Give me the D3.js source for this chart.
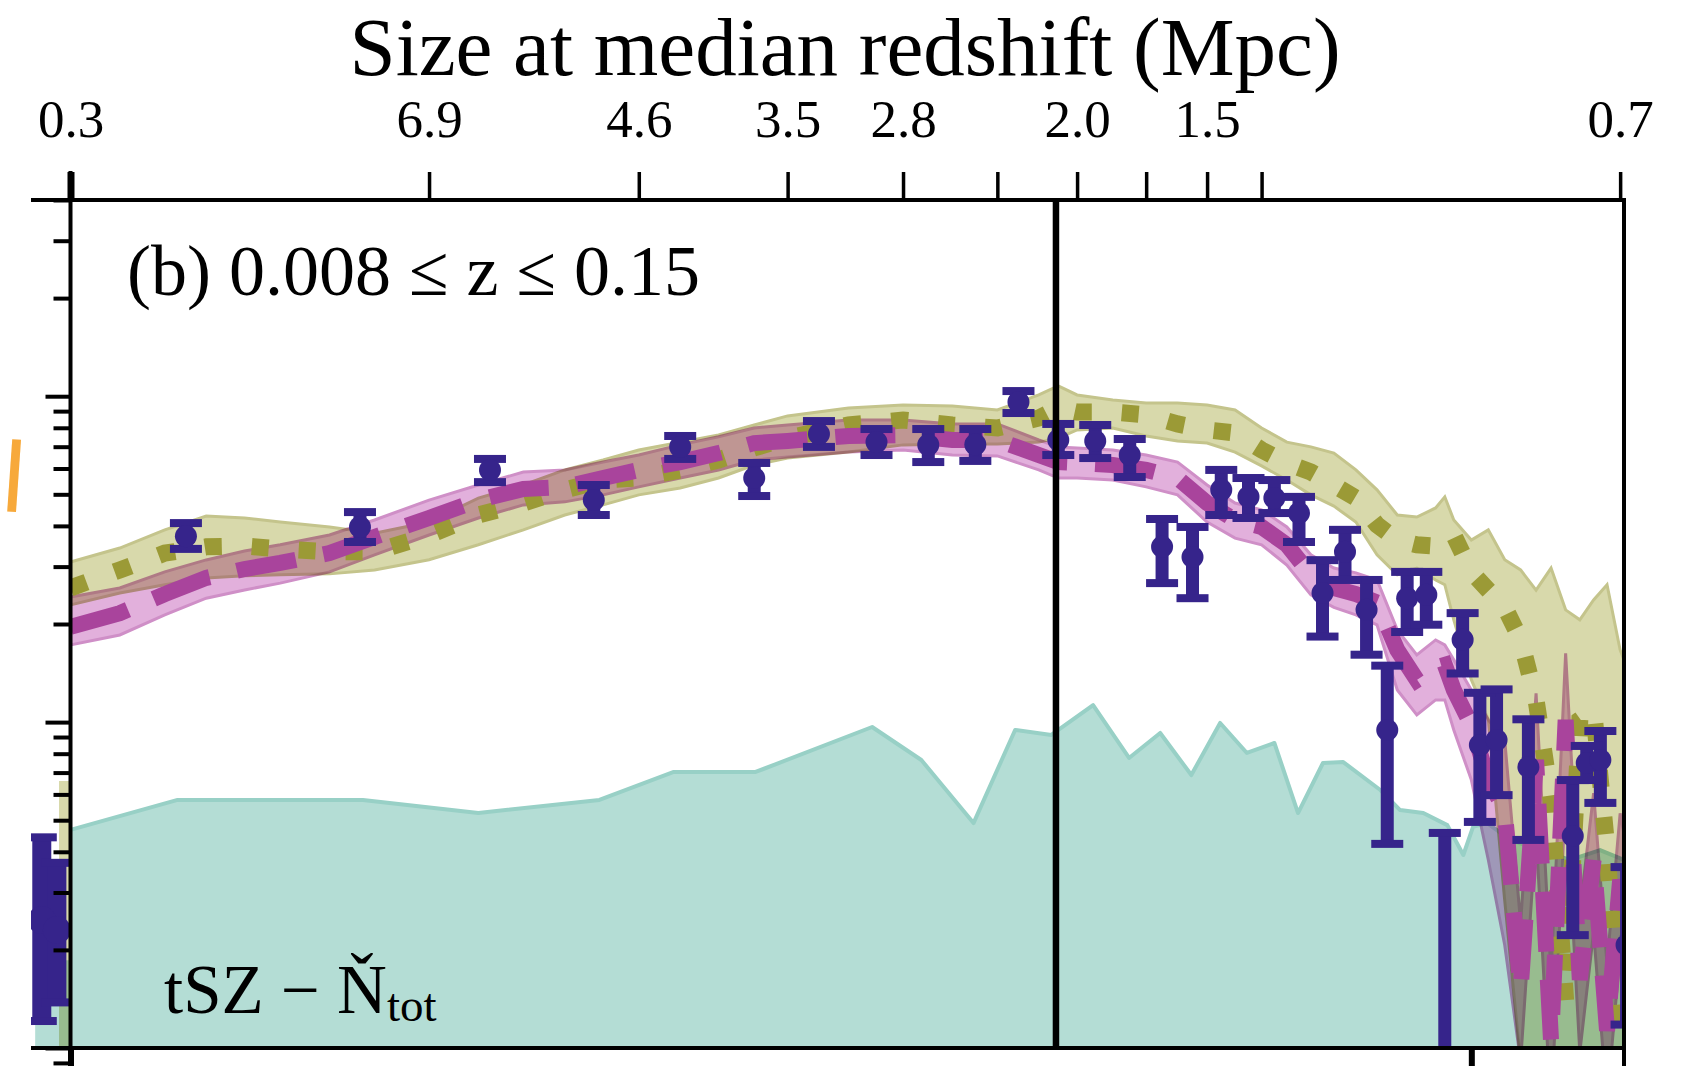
<!DOCTYPE html>
<html>
<head>
<meta charset="utf-8">
<script src="https://cdn.jsdelivr.net/npm/d3@7"></script>
<style>
  html, body { margin: 0; padding: 0; background: #fff; }
  svg { display: block; }
  text { font-family: "Liberation Serif", "Times New Roman", serif; fill: #000; }
</style>
</head>
<body>
<svg id="chart" width="1691" height="1066"></svg>
<script>
// ---------------- data ----------------
// multipole grid of the two model bands
const bandEll = [100,110,120,130,140,150,165,180,200,220,240,260,280,300,325,350,375,400,450,500,
  550,600,650,675,700,750,800,850,900,950,1000,1050,1100,1150,1200,1250,1300,1350,1400,1425,
  1450,1500,1550,1600,1650,1700,1750,1800,1850,1900,1950,2000,2015];

// olive model (dotted line) with its band
const oliveMid = [0.258,0.293,0.330,0.345,0.347,0.340,0.333,0.333,0.375,0.432,0.470,0.516,0.553,0.561,0.594,0.637,0.694,0.744,0.816,0.845,
  0.816,0.799,0.857,0.920,0.894,0.894,0.876,0.822,0.788,0.771,0.684,0.624,0.585,0.534,0.487,0.403,0.362,0.350,0.347,0.370,
  0.375,0.289,0.254,0.225,0.179,0.117,0.0577,0.0140,0.1016,0.109,0.0405,0.0105,0.0093];
const oliveHi = [0.310,0.342,0.389,0.429,0.423,0.411,0.397,0.380,0.411,0.487,0.534,0.594,0.637,0.684,0.723,0.760,0.816,0.870,0.920,0.940,
  0.933,0.907,1.009,1.075,1.009,0.974,0.953,0.953,0.940,0.907,0.799,0.723,0.699,0.669,0.594,0.516,0.432,0.426,0.454,0.491,
  0.417,0.362,0.389,0.315,0.293,0.254,0.297,0.221,0.206,0.237,0.264,0.1665,0.155];
const oliveLo = [0.229,0.249,0.264,0.277,0.281,0.283,0.285,0.293,0.315,0.350,0.389,0.432,0.464,0.498,0.523,0.561,0.615,0.646,0.674,0.709,
  0.713,0.713,0.723,0.744,0.788,0.799,0.755,0.729,0.718,0.674,0.611,0.553,0.498,0.460,0.411,0.326,0.283,0.297,0.273,0.264,
  0.206,0.135,0.102,0.0284,0.009,0.009,0.009,0.009,0.009,0.009,0.009,0.009,0.009];

// magenta model (dashed line) with its band
const magentaMid = [0.196,0.216,0.247,0.277,0.295,0.308,0.330,0.370,0.423,0.480,0.519,0.527,0.561,0.594,0.628,0.669,0.718,0.729,0.755,0.760,
  0.734,0.734,0.660,0.628,0.624,0.615,0.594,0.561,0.470,0.417,0.397,0.350,0.283,0.258,0.247,0.233,0.1665,0.1347,0.147,0.1498,
  0.1255,0.098,0.0665,0.0537,0.0151,0.0766,0.0105,0.1016,0.0162,0.0378,0.0113,0.0328,0.0284];
const magentaHi = [0.242,0.258,0.289,0.3145,0.335,0.350,0.375,0.417,0.480,0.534,0.585,0.594,0.628,0.660,0.709,0.751,0.799,0.816,0.845,0.845,
  0.822,0.822,0.734,0.699,0.694,0.684,0.660,0.628,0.534,0.470,0.448,0.397,0.326,0.297,0.287,0.273,0.1918,0.1607,0.1787,0.1725,
  0.1552,0.1255,0.1016,0.0882,0.0242,0.1225,0.0168,0.1626,0.026,0.0605,0.0181,0.0525,0.0454];
const magentaLo = [0.1725,0.1851,0.2132,0.240,0.2544,0.267,0.289,0.326,0.375,0.423,0.464,0.474,0.498,0.527,0.561,0.594,0.637,0.651,0.674,0.684,
  0.660,0.656,0.594,0.561,0.561,0.553,0.527,0.498,0.411,0.367,0.350,0.3035,0.2456,0.225,0.2132,0.1987,0.1255,0.1052,0.117,0.117,
  0.0946,0.0665,0.0378,0.0207,0.0091,0.046,0.0063,0.061,0.0097,0.0227,0.0068,0.0197,0.017];

// tSZ - N_tot residual (shaded area)
const tealEll = [100,123,176,220,278,321,376,471,518,573,621,666,722,774,822,873,923,972,1025,1073,
  1126,1171,1258,1307,1367,1432,1477,1505,1547,1617,1713,1816,1924,2015];
const tealVal = [0.0467,0.0577,0.0577,0.0526,0.0577,0.0703,0.0703,0.0966,0.0765,0.0490,0.0946,0.0913,0.1128,0.0776,0.0926,0.0688,0.0994,0.0804,0.0863,0.0526,
  0.0749,0.0754,0.0619,0.0537,0.0526,0.0483,0.0391,0.0477,0.0490,0.0435,0.0405,0.0378,0.0405,0.0378];

// measured band powers (bin centres, value, upper and lower error)
const binEll = [125,175,225,275,325,375,425,475,525,575,625,675,725,775,825,875,925,975,1025,1075,
  1125,1175,1225,1275,1325,1375,1425,1475,1525,1575,1675,1825,1875,1925,2025];
const binVal = [0.372,0.397,0.594,0.480,0.699,0.561,0.766,0.723,0.709,0.711,0.960,0.734,0.729,0.660,0.345,0.321,0.516,0.491,0.487,0.438,
  0.249,0.333,0.221,0.0946,0.240,0.246,0.006,0.179,0.0851,0.0881,0.0728,0.0447,0.0749,0.0765,0.0207];
const binHi = [0.408,0.441,0.642,0.534,0.755,0.624,0.839,0.793,0.793,0.793,1.037,0.822,0.816,0.739,0.420,0.397,0.594,0.561,0.553,0.491,
  0.314,0.389,0.273,0.149,0.289,0.289,0.0457,0.216,0.123,0.126,0.102,0.0664,0.0845,0.0939,0.0359];
const binLo = [0.340,0.357,0.545,0.432,0.642,0.494,0.699,0.660,0.628,0.633,0.888,0.660,0.646,0.565,0.267,0.240,0.432,0.423,0.438,0.357,
  0.183,0.273,0.161,0.0423,0.189,0.199,0.001,0.141,0.0494,0.0597,0.0435,0.0222,0.0664,0.0565,0.0118];

// edge of the neighbouring panel (a), just left of this one
const nbEll = [94.6, 97.4];
const nbVal = [0.0247, 0.0230];
const nbHi = [0.0443, 0.0370];
const nbLo = [0.0121, 0.0138];
const nbOliveEll = [97.8, 99.9];
const nbOliveHi = [0.066, 0.066];
const nbTealEll = [93.4, 99.9];
const nbTealVal = [0.0186, 0.0186];

// top axis: multipole ticks labelled with the size at median redshift (Mpc)
const topTickEll = [100,200,300,400,500,600,700,800,900,1000,2000];
const topTickLabel = ["0.3","6.9","4.6","3.5","2.8","","2.0","","1.5","","0.7"];
const bottomTickEll = [100, 1500];
const markerEll = 672;

const yTicks = [0.009,0.01,0.02,0.03,0.04,0.05,0.06,0.07,0.08,0.09,
  0.1,0.2,0.3,0.4,0.5,0.6,0.7,0.8,0.9,1,2,3,4];
const yMajor = [0.01, 0.1, 1];

// ---------------- layout ----------------
const L = 70.5, R = 1624, T = 200, B = 1048;
const x = d3.scaleLog().domain([100, 2015]).range([L, R]);
const y = d3.scaleLog().domain([0.01, 4]).range([B, T]);

const C = {
  blue: "#36248b",
  tealFill: "#b4ddd5", tealEdge: "#98d0c6",
  oliveFill: "#d8d9ab", oliveEdge: "#c4c48c", oliveLine: "#9b9a36",
  pinkFill: "#e2b0dc", pinkEdge: "#cf8fc7", magentaLine: "#a9449c"
};

const svg = d3.select("#chart");
const defs = svg.append("defs");
defs.append("clipPath").attr("id", "plotClip")
  .append("rect").attr("x", L).attr("y", T).attr("width", R - L).attr("height", B - T);
defs.append("clipPath").attr("id", "nbClip")
  .append("rect").attr("x", 31).attr("y", T).attr("width", L - 31).attr("height", B - T);

const zip3 = (e, m, lo, hi) => e.map((d, i) => ({ e: d, m: m ? m[i] : null, lo: lo ? lo[i] : null, hi: hi ? hi[i] : null }));

const area = d3.area().x(d => x(d.e)).y0(d => y(d.lo)).y1(d => y(d.hi));
const line = d3.line().x(d => x(d.e)).y(d => y(d.m));

function drawPoints(g, data, barW, capW, r) {
  const pg = g.append("g");
  pg.selectAll("line.bar").data(data).join("line").attr("class", "bar")
    .attr("x1", d => x(d.e)).attr("x2", d => x(d.e))
    .attr("y1", d => y(d.hi)).attr("y2", d => y(d.lo))
    .attr("stroke", C.blue).attr("stroke-width", barW);
  pg.selectAll("rect.capHi").data(data).join("rect").attr("class", "capHi")
    .attr("x", d => x(d.e) - capW / 2).attr("y", d => y(d.hi) - 4)
    .attr("width", capW).attr("height", 8).attr("fill", C.blue);
  pg.selectAll("rect.capLo").data(data).join("rect").attr("class", "capLo")
    .attr("x", d => x(d.e) - capW / 2).attr("y", d => y(d.lo) - 4)
    .attr("width", capW).attr("height", 8).attr("fill", C.blue);
  pg.selectAll("circle").data(data).join("circle")
    .attr("cx", d => x(d.e)).attr("cy", d => y(d.m)).attr("r", r).attr("fill", C.blue);
}

// ---------- neighbouring panel edge ----------
const nb = svg.append("g").attr("clip-path", "url(#nbClip)");
nb.append("path")
  .datum(zip3(nbTealEll, null, nbTealVal.map(() => 0.009), nbTealVal))
  .attr("d", area).attr("fill", C.tealFill);
nb.append("path")
  .datum(zip3(nbOliveEll, null, nbOliveHi.map(() => 0.009), nbOliveHi))
  .attr("d", area).attr("fill", C.oliveFill).style("mix-blend-mode", "multiply");
drawPoints(nb, zip3(nbEll, nbVal, nbLo, nbHi), 19, 30, 14);

// ---------- main panel ----------
const plot = svg.append("g").attr("clip-path", "url(#plotClip)");

// residual area
const tealData = tealEll.map((e, i) => ({ e, lo: 0.005, hi: tealVal[i], m: tealVal[i] }));
plot.append("path").datum(tealData).attr("d", area).attr("fill", C.tealFill);
plot.append("path").datum(tealData).attr("d", line)
  .attr("fill", "none").attr("stroke", C.tealEdge).attr("stroke-width", 4).attr("stroke-linejoin", "round");

// model bands
const olive = zip3(bandEll, oliveMid, oliveLo, oliveHi);
const magenta = zip3(bandEll, magentaMid, magentaLo, magentaHi);

plot.append("path").datum(olive).attr("d", area)
  .attr("fill", C.oliveFill).attr("stroke", C.oliveEdge).attr("stroke-width", 3)
  .style("mix-blend-mode", "multiply");
plot.append("path").datum(magenta).attr("d", area)
  .attr("fill", C.pinkFill).attr("stroke", C.pinkEdge).attr("stroke-width", 3)
  .style("mix-blend-mode", "multiply");

// model lines
plot.append("path").datum(olive).attr("d", line)
  .attr("fill", "none").attr("stroke", C.oliveLine).attr("stroke-width", 17)
  .attr("stroke-dasharray", "17 30").attr("stroke-linecap", "butt");
plot.append("path").datum(magenta).attr("d", line)
  .attr("fill", "none").attr("stroke", C.magentaLine).attr("stroke-width", 16)
  .attr("stroke-dasharray", "60 28").attr("stroke-linecap", "butt");

// measured points
drawPoints(plot, zip3(binEll, binVal, binLo, binHi), 13, 32, 11);

// vertical marker line
svg.append("line")
  .attr("x1", x(markerEll)).attr("x2", x(markerEll)).attr("y1", T).attr("y2", B)
  .attr("stroke", "#000").attr("stroke-width", 6.5);

// ---------- frame & axes ----------
const frame = svg.append("g").attr("stroke", "#000").attr("stroke-width", 4);
frame.append("line").attr("x1", 31).attr("x2", R + 2).attr("y1", T).attr("y2", T);
frame.append("line").attr("x1", 31).attr("x2", R + 2).attr("y1", B).attr("y2", B);
frame.append("line").attr("x1", R).attr("x2", R).attr("y1", T).attr("y2", 1066);
frame.append("line").attr("x1", L).attr("x2", L).attr("y1", 171).attr("y2", 1066);

// top axis
const topAxis = svg.append("g").attr("transform", `translate(0,${T})`)
  .call(d3.axisTop(x).tickValues(topTickEll)
    .tickFormat((d, i) => topTickLabel[i]).tickSize(28).tickPadding(35));
topAxis.select(".domain").remove();
topAxis.attr("font-family", null).attr("font-size", null);
topAxis.selectAll(".tick line").attr("stroke", "#000")
  .attr("stroke-width", d => d === 100 ? 7 : 3.5);
topAxis.selectAll(".tick text").style("font-size", "53px").attr("fill", "#000");

// bottom axis stubs
const botAxis = svg.append("g").attr("transform", `translate(0,${B})`)
  .call(d3.axisBottom(x).tickValues(bottomTickEll).tickFormat("").tickSize(18));
botAxis.select(".domain").remove();
botAxis.selectAll(".tick line").attr("stroke", "#000").attr("stroke-width", 6);

// left axis (log ticks, outward)
const leftAxis = svg.append("g").attr("transform", `translate(${L},0)`)
  .call(d3.axisLeft(y).tickValues(yTicks).tickFormat("").tickSize(17));
leftAxis.select(".domain").remove();
leftAxis.selectAll(".tick line").attr("stroke", "#000").attr("stroke-width", 4)
  .attr("x2", d => yMajor.some(m => Math.abs(m - d) < 1e-9) ? -25 : -17);

// ---------- text ----------
svg.append("text").attr("x", 845).attr("y", 75).attr("text-anchor", "middle")
  .style("font-size", "83px").text("Size at median redshift (Mpc)");

svg.append("text").attr("x", 127).attr("y", 295)
  .style("font-size", "72px").text("(b) 0.008 \u2264 z \u2264 0.15");

const lab = svg.append("text").attr("x", 164).attr("y", 1013).style("font-size", "69px");
lab.append("tspan").text("tSZ \u2212 \u0147");
lab.append("tspan").attr("dy", 8).style("font-size", "47px").text("tot");

// fragment of the neighbouring panel's axis label
svg.append("text").attr("x", 3).attr("y", 511)
  .attr("transform", "rotate(4,0,474)")
  .style("font-family", "'Liberation Sans', Arial, sans-serif")
  .style("font-size", "100px").style("fill", "#f7a93b").text("l");
</script>
</body>
</html>
